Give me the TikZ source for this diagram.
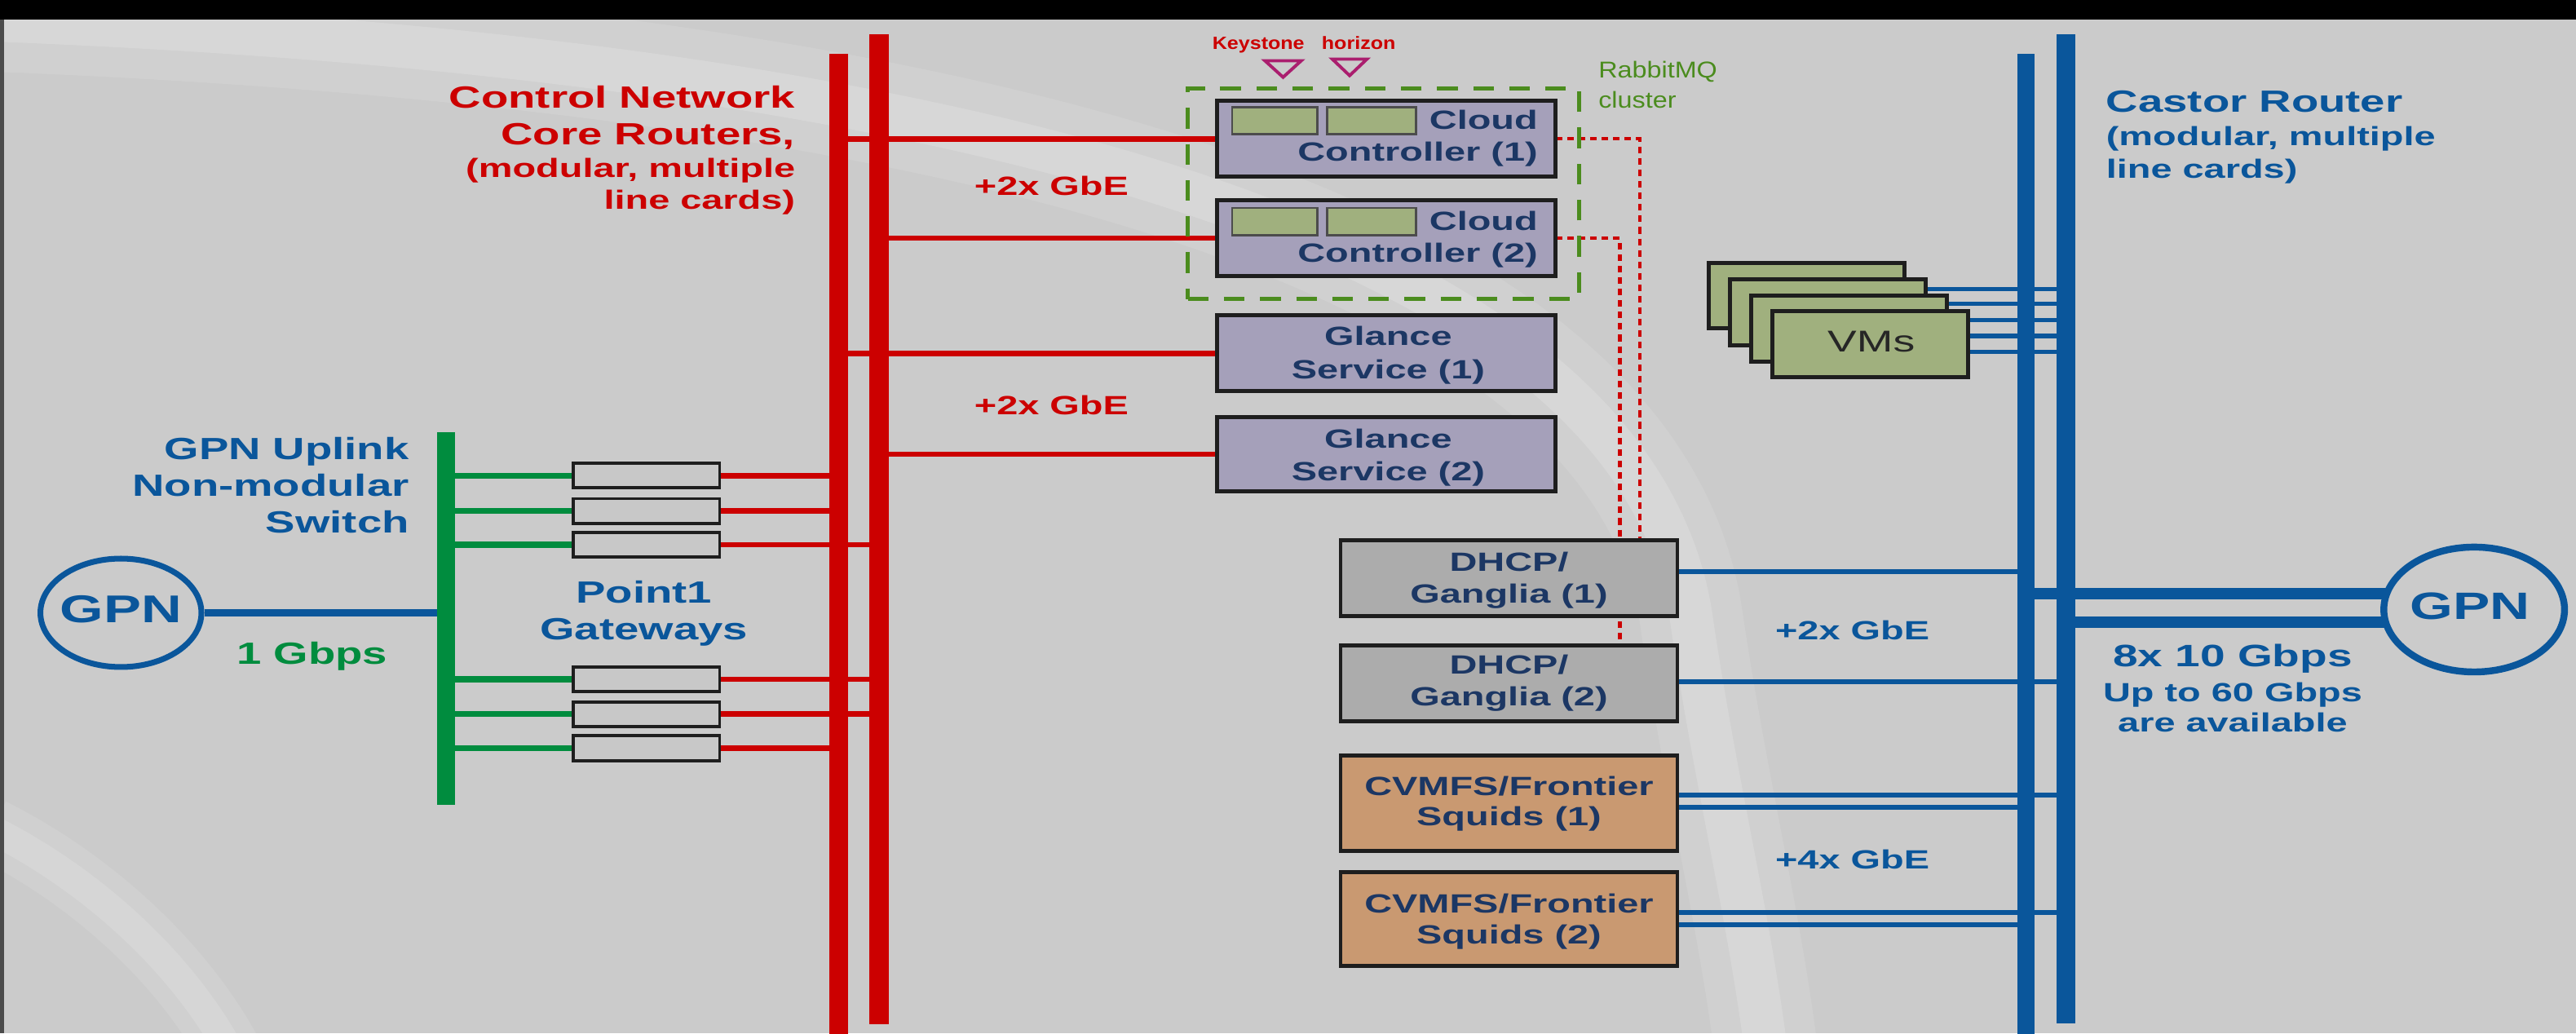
\documentclass[tikz,border=0pt]{standalone}
\usepackage{fontspec}
\setmainfont{Liberation Sans}[FakeStretch=1.45]
\newfontfamily\narrowfont{Liberation Sans}[FakeStretch=1.15]
\usetikzlibrary{shapes.geometric}
\pgfdeclarelayer{bglayer}
\pgfdeclarelayer{linelayer}
\pgfsetlayers{bglayer,linelayer,main}
\definecolor{bgc}{RGB}{203,203,203}
\definecolor{cred}{RGB}{204,0,0}
\definecolor{cblue}{RGB}{10,86,155}
\definecolor{cgreen}{RGB}{0,140,62}
\definecolor{rgreen}{RGB}{75,140,30}
\definecolor{navy}{RGB}{28,55,100}
\definecolor{lav}{RGB}{165,160,186}
\definecolor{olive}{RGB}{160,176,126}
\definecolor{dhgrey}{RGB}{172,172,172}
\definecolor{sqtan}{RGB}{201,153,113}
\definecolor{gwgrey}{RGB}{200,200,200}
\definecolor{edgec}{RGB}{30,30,30}
\definecolor{magc}{RGB}{170,30,110}
\newcommand{\opx}{0.020147cm}
\newcommand{\fbig}{\fontsize{10.7pt}{12pt}\selectfont\bfseries}
\newcommand{\fmid}{\fontsize{9.2pt}{11pt}\selectfont\bfseries}
\tikzset{
  lbl/.style={inner sep=0pt, outer sep=0pt},
  boxbase/.style={draw=edgec, line width=1.4pt, inner sep=0pt, outer sep=0pt},
  svc/.style={boxbase, fill=lav, minimum width=206*\opx, minimum height=46*\opx},
  dhbox/.style={boxbase, fill=dhgrey, minimum width=205*\opx, minimum height=46*\opx},
  sqbox/.style={boxbase, fill=sqtan, minimum width=205*\opx, minimum height=57*\opx},
  gwbox/.style={boxbase, fill=gwgrey, line width=1.1pt, minimum width=89*\opx, minimum height=15*\opx},
  slot/.style={draw=black!70, line width=0.8pt, fill=olive, inner sep=0pt, minimum height=16.5*\opx},
  vmbox/.style={boxbase, fill=olive, minimum width=119*\opx, minimum height=40*\opx},
  rline/.style={cred, line width=1.9pt},
  bline/.style={cblue, line width=1.7pt},
  gline/.style={cgreen, line width=2.1pt},
  vline/.style={cblue, line width=1.45pt},
  rdot/.style={cred, line width=1.15pt, dash pattern=on 2.3pt off 1.7pt},
  btxt/.style={lbl, navy, font=\fmid},
}
\begin{document}
\begin{tikzpicture}[x=0.020147cm, y=-0.020147cm]
\useasboundingbox (0,0) rectangle (1568,629);
\begin{pgfonlayer}{bglayer}
  \fill[bgc] (0,0) rectangle (1568,629);
  \draw[white, opacity=0.10, line width=36pt] (-10,12) .. controls (600,35) and (1000,150) .. (1030,380) .. controls (1045,480) and (1065,560) .. (1075,640);
  \draw[white, opacity=0.16, line width=15pt] (-10,12) .. controls (600,35) and (1000,150) .. (1030,380) .. controls (1045,480) and (1065,560) .. (1075,640);
  \draw[white, opacity=0.10, line width=22pt] (-5,505) .. controls (55,535) and (110,585) .. (140,640);
  \draw[white, opacity=0.14, line width=10pt] (-5,505) .. controls (55,535) and (110,585) .. (140,640);
  \fill[black] (0,0) rectangle (1568,12);
  \fill[black!70] (0,12) rectangle (2.5,629);
\end{pgfonlayer}

% bus coordinates
\coordinate (rL) at (510.5,33);   \coordinate (rLb) at (510.5,632);
\coordinate (rR) at (535,21);     \coordinate (rRb) at (535,623.6);
\coordinate (bL) at (1233,33);    \coordinate (bLb) at (1233,632);
\coordinate (bR) at (1257.5,21);  \coordinate (bRb) at (1257.5,623);
\coordinate (gB) at (271.5,263);  \coordinate (gBb) at (271.5,490);
\coordinate (dotA) at (998,0);
\coordinate (dotB) at (986,0);

% buses
\draw[cred, line width=6.5pt] (rL) -- (rLb);
\draw[cred, line width=6.9pt] (rR) -- (rRb);
\draw[cblue, line width=6pt] (bL) -- (bLb);
\draw[cblue, line width=6.5pt] (bR) -- (bRb);
\draw[cgreen, line width=6pt] (gB) -- (gBb);

% service boxes
\node[svc] (cc1) at (844,84.5) {};
\node[svc] (cc2) at (844,145) {};
\node[svc] (gl1) at (844,215) {};
\node[svc, minimum height=45*\opx] (gl2) at (844,276.5) {};
\node[dhbox] (dh1) at (918.5,352) {};
\node[dhbox] (dh2) at (918.5,416) {};
\node[sqbox, minimum height=58*\opx] (sq1) at (918.5,489) {};
\node[sqbox] (sq2) at (918.5,559.5) {};

\node[slot, minimum width=52*\opx] (s11) at (776,73.5) {};
\node[slot, minimum width=54*\opx] (s12) at (835,73.5) {};
\node[slot, minimum width=52*\opx] (s21) at (776,134.8) {};
\node[slot, minimum width=54*\opx] (s22) at (835,134.8) {};

% gateways
\node[gwbox] (gw1) at (393.5,289.5) {};
\node[gwbox] (gw2) at (393.5,311) {};
\node[gwbox] (gw3) at (393.5,331.5) {};
\node[gwbox] (gw4) at (393.5,413.5) {};
\node[gwbox] (gw5) at (393.5,434.7) {};
\node[gwbox] (gw6) at (393.5,455.4) {};

% VMs stack
\node[vmbox] (vm1) at (1099.5,180) {};
\node[vmbox] (vm2) at (1112.5,190) {};
\node[vmbox] (vm3) at (1125.5,200) {};
\node[vmbox] (vm4) at (1138.5,209.5) {};

% GPN clouds
\node[ellipse, draw=cblue, line width=2pt, fill=bgc, minimum width=98*\opx, minimum height=66*\opx, inner sep=0pt] (gpnL) at (73.6,373) {};
\node[ellipse, draw=cblue, line width=2.4pt, fill=bgc, minimum width=110*\opx, minimum height=76*\opx, inner sep=0pt] (gpnR) at (1506,371) {};

% RabbitMQ cluster
\node[draw=rgreen, line width=1.35pt, dash pattern=on 7.2pt off 5.4pt, minimum width=238*\opx, minimum height=128*\opx, inner sep=0pt] (clus) at (842,118) {};

% connectors
\begin{pgfonlayer}{linelayer}
  \draw[rline] (cc1.west) -- (cc1.west -| rL);
  \draw[rline] (cc2.west) -- (cc2.west -| rR);
  \draw[rline] (gl1.west) -- (gl1.west -| rL);
  \draw[rline] (gl2.west) -- (gl2.west -| rR);
  \draw[rline] (gw1.east) -- (gw1.east -| rL);
  \draw[rline] (gw2.east) -- (gw2.east -| rL);
  \draw[rline] (gw3.east) -- (gw3.east -| rR);
  \draw[rline] (gw4.east) -- (gw4.east -| rR);
  \draw[rline] (gw5.east) -- (gw5.east -| rR);
  \draw[rline] (gw6.east) -- (gw6.east -| rL);
  \foreach \g in {gw1,gw2,gw3,gw4,gw5,gw6}
    \draw[gline] (\g.west) -- (\g.west -| gB);
  \draw[cblue, line width=2.4pt] (gpnL.east) -- (gpnL.east -| gB);
  \draw[rdot] (cc1.east) -- (cc1.east -| dotA) -- (dh1.north -| dotA);
  \draw[rdot] (cc2.east) -- (cc2.east -| dotB) -- (dh2.north -| dotB);
  \draw[bline] (dh1.east |- 0,348) -- (bL |- 0,348);
  \draw[bline] (dh2.east |- 0,415) -- (bR |- 0,415);
  \draw[bline] (sq1.east |- 0,484) -- (bR |- 0,484);
  \draw[bline] (sq1.east |- 0,491.5) -- (bL |- 0,491.5);
  \draw[bline] (sq2.east |- 0,555.5) -- (bR |- 0,555.5);
  \draw[bline] (sq2.east |- 0,563) -- (bL |- 0,563);
  \foreach \yy in {176,185,195,204.5,214}
    \draw[vline] (vm1.center |- 0,\yy) -- (bR |- 0,\yy);
  \draw[cblue, line width=4pt] (bL |- 0,361.5) -- (gpnR.center |- 0,361.5);
  \draw[cblue, line width=4pt] (bR |- 0,378.5) -- (gpnR.center |- 0,378.5);
\end{pgfonlayer}

% triangles
\draw[magc, line width=1.1pt] (770,37) -- (792,37) -- (781,47) -- cycle;
\draw[magc, line width=1.1pt] (811,36) -- (832,36) -- (821.5,46) -- cycle;

% titles
\node[lbl, cred, font=\fbig, anchor=base east] (ctl1) at (484,66) {Control Network};
\node[lbl, cred, font=\fbig, anchor=base east] (ctl2) at (484,88) {Core Routers,};
\node[lbl, cred, font=\fmid, anchor=base east] (ctl3) at (484,108) {(modular, multiple};
\node[lbl, cred, font=\fmid, anchor=base east] (ctl4) at (484,127.5) {line cards)};

\node[lbl, cblue, font=\fbig, anchor=base west] (cas1) at (1282,68) {Castor Router};
\node[lbl, cblue, font=\fmid, anchor=base west] (cas2) at (1282,88.5) {(modular, multiple};
\node[lbl, cblue, font=\fmid, anchor=base west] (cas3) at (1282,108.5) {line cards)};

\node[lbl, cblue, font=\fbig, anchor=base east] (up1) at (249,279.6) {GPN Uplink};
\node[lbl, cblue, font=\fbig, anchor=base east] (up2) at (249,302) {Non-modular};
\node[lbl, cblue, font=\fbig, anchor=base east] (up3) at (249,324.6) {Switch};

\node[lbl, cblue, font=\fbig, anchor=base] (pt1) at (392,367) {Point1};
\node[lbl, cblue, font=\fbig, anchor=base] (pt2) at (392,389.5) {Gateways};
\node[lbl, cgreen, font=\fbig, anchor=base] (gbps1) at (190,404.5) {1 Gbps};

\node[lbl, cblue, font={\fontsize{13.5pt}{15pt}\selectfont\bfseries}, anchor=base] (gpnLt) at (73.6,379) {GPN};
\node[lbl, cblue, font={\fontsize{13.3pt}{15pt}\selectfont\bfseries}, anchor=base] (gpnRt) at (1503.5,377) {GPN};

\node[lbl, cblue, font={\fontsize{10.8pt}{12pt}\selectfont\bfseries}, anchor=base] (bw1) at (1359,405.7) {8x 10 Gbps};
\node[lbl, cblue, font=\fmid, anchor=base] (bw2) at (1359,427) {Up to 60 Gbps};
\node[lbl, cblue, font=\fmid, anchor=base] (bw3) at (1359,445.6) {are available};

\node[lbl, cred, font=\fmid, anchor=base] (rg1) at (640,119) {+2x GbE};
\node[lbl, cred, font=\fmid, anchor=base] (rg2) at (640,252.6) {+2x GbE};
\node[lbl, cblue, font=\fmid, anchor=base] (bg1) at (1127.5,389.6) {+2x GbE};
\node[lbl, cblue, font=\fmid, anchor=base] (bg2) at (1127.5,529) {+4x GbE};

\node[lbl, rgreen, font={\narrowfont\fontsize{8pt}{9pt}\selectfont}, anchor=base west] (rmq1) at (973,47.5) {RabbitMQ};
\node[lbl, rgreen, font={\narrowfont\fontsize{8pt}{9pt}\selectfont}, anchor=base west] (rmq2) at (973,66) {cluster};
\node[lbl, cred, font={\narrowfont\fontsize{6.2pt}{7pt}\selectfont\bfseries}, anchor=base] (ks) at (766,30) {Keystone};
\node[lbl, cred, font={\narrowfont\fontsize{6.2pt}{7pt}\selectfont\bfseries}, anchor=base] (hz) at (827,30) {horizon};

% box texts
\node[btxt, anchor=base east] (cc1a) at (936,78.6) {Cloud};
\node[btxt, anchor=base east] (cc1b) at (936,98) {Controller (1)};
\node[btxt, anchor=base east] (cc2a) at (936,140.4) {Cloud};
\node[btxt, anchor=base east] (cc2b) at (936,159.5) {Controller (2)};
\node[btxt, anchor=base] (gl1a) at (845,210.3) {Glance};
\node[btxt, anchor=base] (gl1b) at (845,230.6) {Service (1)};
\node[btxt, anchor=base] (gl2a) at (845,272.5) {Glance};
\node[btxt, anchor=base] (gl2b) at (845,292.5) {Service (2)};
\node[btxt, anchor=base] (dh1a) at (918.5,347.7) {DHCP/};
\node[btxt, anchor=base] (dh1b) at (918.5,367) {Ganglia (1)};
\node[btxt, anchor=base] (dh2a) at (918.5,410) {DHCP/};
\node[btxt, anchor=base] (dh2b) at (918.5,429.6) {Ganglia (2)};
\node[btxt, anchor=base] (sq1a) at (918.5,484) {CVMFS/Frontier};
\node[btxt, anchor=base] (sq1b) at (918.5,502.4) {Squids (1)};
\node[btxt, anchor=base] (sq2a) at (918.5,555.5) {CVMFS/Frontier};
\node[btxt, anchor=base] (sq2b) at (918.5,574.7) {Squids (2)};
\node[lbl, black!85, font={\fontsize{10.5pt}{12pt}\selectfont}, anchor=base] (vmt) at (1139,214.2) {VMs};
\end{tikzpicture}
\end{document}
